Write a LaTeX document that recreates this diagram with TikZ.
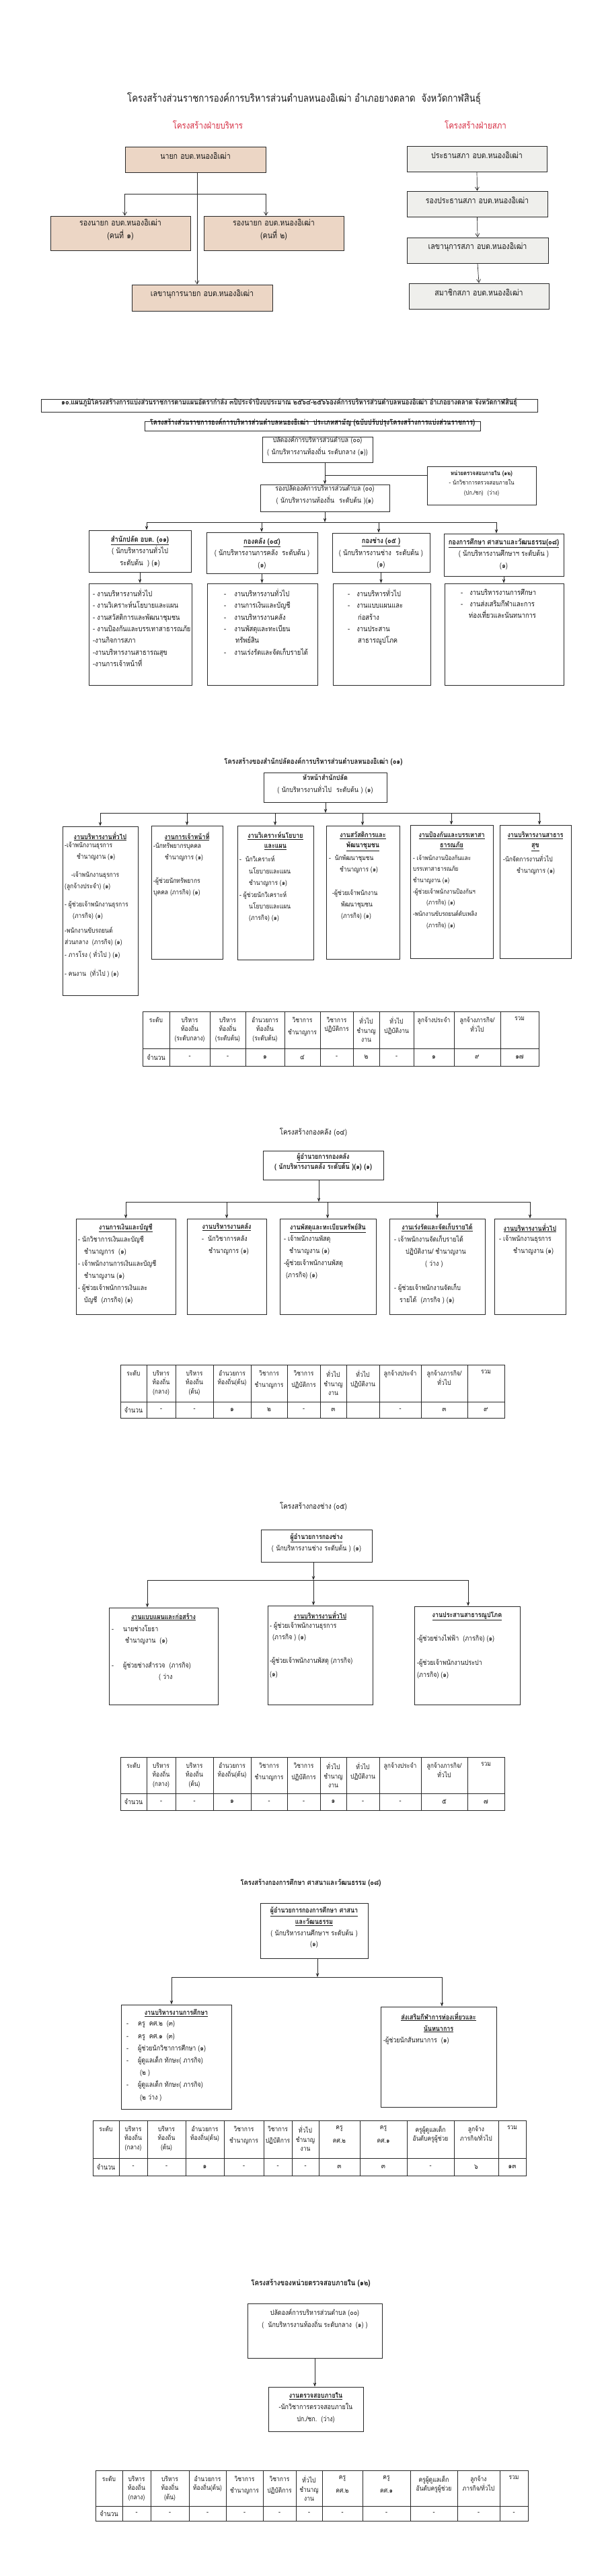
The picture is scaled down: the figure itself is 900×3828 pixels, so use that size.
\documentclass[tikz,border=0pt]{standalone}
\usepackage{fontspec}
\setmainfont{Loma}[Script=Thai,FakeStretch=0.85]
\usetikzlibrary{arrows.meta,fit}
\definecolor{lc}{RGB}{40,40,40}
\definecolor{txc}{RGB}{25,25,25}
\definecolor{tanc}{RGB}{236,214,197}
\definecolor{gryc}{RGB}{239,239,236}
\definecolor{redt}{RGB}{214,44,66}
\newcommand\fz[2]{\fontsize{#1pt}{#2pt}\selectfont}
\newcommand\ulb[1]{\underline{\textbf{#1}}}
\newcommand\hsp[1]{\hspace*{#1pt}}
\newcommand\tbcell[8]{%
  \draw[ln] (#2,#4) rectangle (#3,#5);
  \draw[ln] (#2,#5) rectangle (#3,#6);
  \node[th] (#1h) at ({(#2+#3)/2},#4+8) {#7};
  \node[tv] (#1v) at ({(#2+#3)/2},{(#5+#6)/2}) {#8};}
\begin{document}
\begin{tikzpicture}[x=1pt,y=-1pt,
  bx/.style={draw=lc,line width=0.9pt,inner sep=0pt},
  ln/.style={draw=lc,line width=0.7pt},
  arr/.style={draw=lc,line width=0.7pt,-{Stealth[length=6pt,width=4.5pt]}},
  arrv/.style={draw=lc,line width=0.7pt,-{Straight Barb[length=5pt,width=6pt]}},
  tc/.style={inner sep=0pt,align=center,text=txc,anchor=north},
  tl/.style={inner sep=0pt,align=left,text=txc,anchor=north west},
  th/.style={inner sep=0pt,align=center,text=txc,anchor=north,font=\fz{10}{13.5}},
  tv/.style={inner sep=0pt,text=txc,font=\fz{10.5}{13}},
  bt/.style={text=txc,font=\fz{12.5}{19},align=center}]
\fill[white] (0,0) rectangle (900,3828);
\useasboundingbox (0,0) rectangle (900,3828);

% ---------------- Section 1 ----------------
\node[text=txc,font=\fz{15.5}{18}] (ttl) at (452,147) {โครงสร้างส่วนราชการองค์การบริหารส่วนตำบลหนองอิเฒ่า อำเภอยางตลาด\ \ จังหวัดกาฬสินธุ์};
\node[text=redt,font=\fz{13.5}{16}] (hex) at (309,185) {โครงสร้างฝ่ายบริหาร};
\node[text=redt,font=\fz{13.5}{16}] (hco) at (707,185) {โครงสร้างฝ่ายสภา};
\node[bx,fill=tanc,fit={(186,218) (395,256)},bt] (nayok) {นายก อบต.หนองอิเฒ่า};
\node[bx,fill=tanc,fit={(75,321) (283,372)},bt] (rn1) {รองนายก อบต.หนองอิเฒ่า\\(คนที่ ๑)};
\node[bx,fill=tanc,fit={(303,321) (511,372)},bt] (rn2) {รองนายก อบต.หนองอิเฒ่า\\(คนที่ ๒)};
\node[bx,fill=tanc,fit={(196,423) (405,462)},bt] (lek) {เลขานุการนายก อบต.หนองอิเฒ่า};
\coordinate (hb1) at (293,288);
\draw[arrv] (nayok.south -| hb1) -- (lek.north -| hb1);
\draw[ln] (nayok.south west |- hb1) -- (nayok.south east |- hb1);
\draw[arrv] (nayok.south west |- hb1) -- (nayok.south west |- rn1.north);
\draw[arrv] (nayok.south east |- hb1) -- (nayok.south east |- rn2.north);
\node[bx,fill=gryc,fit={(605,217) (813,255)},bt] (pr) {ประธานสภา อบต.หนองอิเฒ่า};
\node[bx,fill=gryc,fit={(605,284) (814,322)},bt] (rpr) {รองประธานสภา อบต.หนองอิเฒ่า};
\node[bx,fill=gryc,fit={(605,353) (815,391)},bt] (lks) {เลขานุการสภา อบต.หนองอิเฒ่า};
\node[bx,fill=gryc,fit={(608,421) (816,459)},bt] (smc) {สมาชิกสภา อบต.หนองอิเฒ่า};
\draw[arrv] (pr.south) -- (rpr.north);
\draw[arrv] (rpr.south) -- (lks.north);
\draw[arrv] (lks.south) -- (smc.north);

% ---------------- Section 2 ----------------
\node[bx,fit={(61,593) (799,612)},text=txc,font=\fz{11}{13}\bfseries] (hd1) {๑๐.แผนภูมิโครงสร้างการแบ่งส่วนราชการตามแผนอัตรากำลัง ๓ปีประจำปีงบประมาณ ๒๕๖๔-๒๕๖๖องค์การบริหารส่วนตำบลหนองอิเฒ่า อำเภอยางตลาด จังหวัดกาฬสินธุ์};
\node[bx,fit={(215,626) (714,640)},text=txc,font=\fz{11}{13}\bfseries] (hd2) {โครงสร้างส่วนราชการองค์การบริหารส่วนตำบลหนองอิเฒ่า\ \ ประเภทสามัญ (ฉบับปรับปรุงโครงสร้างการแบ่งส่วนราชการ)};
\node[bx,fit={(390,649) (554,687)},align=center,text=txc,font=\fz{10.5}{18}] (pld) {ปลัดองค์การบริหารส่วนตำบล (๐๐)\\(\ นักบริหารงานท้องถิ่น ระดับกลาง (๑))};
\node[bx,fit={(387,720) (579,760)},align=center,text=txc,font=\fz{10.5}{18}] (rpld) {รองปลัดองค์การบริหารส่วนตำบล (๐๐)\\(\ นักบริหารงานท้องถิ่น\ \ ระดับต้น )(๑)};
\node[bx,fit={(635,693) (797,750)},align=center,text=txc,font=\fz{9}{14.5}] (aud) {\textbf{หน่วยตรวจสอบภายใน (๑๒)}\\- นักวิชาการตรวจสอบภายใน\\(ปก./ชก)\ \ (ว่าง)};
\draw[arr] (rpld.north |- pld.south) -- (rpld.north);
\coordinate (ja) at (483,706);
\draw[ln] (ja) -- (ja -| aud.west);
\coordinate (hb2) at (483,776);
\draw[arr] (rpld.south) -- (hb2);
\coordinate (q1) at (218,776);
\coordinate (q2) at (389,776);
\coordinate (q3) at (563,776);
\coordinate (q4) at (738,776);
\draw[ln] (q1) -- (q4);
\node[bx,fit={(132,788) (284,850)}] (d1) {};
\node[bx,fit={(307,791) (472,852)}] (d2) {};
\node[bx,fit={(494,792) (639,850)}] (d3) {};
\node[bx,fit={(660,793) (838,856)}] (d4) {};
\draw[arr] (q1) -- (q1 |- d1.north);
\draw[arr] (q2) -- (q2 |- d2.north);
\draw[arr] (q3) -- (q3 |- d3.north);
\draw[arr] (q4) -- (q4 |- d4.north);
\node[tc,font=\fz{11}{17.5}] (d1t) at (208,796) {\ulb{สำนักปลัด อบต. (๐๑)}\\( นักบริหารงานทั่วไป\\ระดับต้น\ \ ) (๑)};
\node[tc,font=\fz{11}{17.5}] (d2t) at (389.5,799) {\ulb{กองคลัง (๐๔)}\\( นักบริหารงานการคลัง\ \ ระดับต้น )\\(๑)};
\node[tc,font=\fz{11}{17.5}] (d3t) at (566.5,799) {\ulb{กองช่าง (๐๕ )}\\( นักบริหารงานช่าง\ \ ระดับต้น )\\(๑)};
\node[tc,font=\fz{11}{17.5}] (d4t) at (749,800) {\ulb{กองการศึกษา ศาสนาและวัฒนธรรม(๐๘)}\\( นักบริหารงานศึกษาฯ ระดับต้น )\\(๑)};
\node[bx,fit={(132,867) (285,1018)}] (t1) {};
\node[bx,fit={(308,867) (472,1018)}] (t2) {};
\node[bx,fit={(495,867) (640,1018)}] (t3) {};
\node[bx,fit={(661,867) (838,1018)}] (t4) {};
\draw[arr] (d1.south) -- (d1.south |- t1.north);
\draw[arr] (d2.south) -- (d2.south |- t2.north);
\draw[arr] (d3.south) -- (d3.south |- t3.north);
\draw[arr] (d4.south) -- (d4.south |- t4.north);
\node[tl,font=\fz{11}{17.3}] (t1t) at (138,875) {- งานบริหารงานทั่วไป\\- งานวิเคราะห์นโยบายและแผน\\- งานสวัสดิการและพัฒนาชุมชน\\- งานป้องกันและบรรเทาสาธารณภัย\\-งานกิจการสภา\\-งานบริหารงานสาธารณสุข\\-งานการเจ้าหน้าที่};
\node[tl,font=\fz{11}{17.3}] (t2t) at (333,875) {-\hsp{12}งานบริหารงานทั่วไป\\-\hsp{12}งานการเงินและบัญชี\\-\hsp{12}งานบริหารงานคลัง\\-\hsp{12}งานพัสดุและทะเบียน\\\hsp{17}ทรัพย์สิน\\-\hsp{12}งานเร่งรัดและจัดเก็บรายได้};
\node[tl,font=\fz{11}{17.3}] (t3t) at (517,875) {-\hsp{10}งานบริหารทั่วไป\\-\hsp{10}งานแบบแผนและ\\\hsp{15}ก่อสร้าง\\-\hsp{10}งานประสาน\\\hsp{15}สาธารณูปโภค};
\node[tl,font=\fz{11}{17.3}] (t4t) at (685,875) {-\hsp{10}งานบริหารงานการศึกษา\\-\hsp{10}งานส่งเสริมกีฬาและการ\\\hsp{12}ท่องเที่ยวและนันทนาการ};

% ---------------- Section 3 ----------------
\node[text=txc,font=\fz{11}{13}\bfseries] (st3) at (466,1132) {โครงสร้างของสำนักปลัดองค์การบริหารส่วนตำบลหนองอิเฒ่า (๐๑)};
\node[bx,fit={(392,1148) (575,1192)},align=center,text=txc,font=\fz{10.5}{18}] (hsp) {\textbf{หัวหน้าสำนักปลัด}\\( นักบริหารงานทั่วไป\ \ ระดับต้น ) (๑)};
\coordinate (hb3) at (484,1208);
\draw[arr] (hb3 |- hsp.south) -- (hb3);
\coordinate (r1) at (149,1208);
\coordinate (r2) at (278,1208);
\coordinate (r3) at (409,1208);
\coordinate (r4) at (539,1208);
\coordinate (r5) at (671,1208);
\coordinate (r6) at (802,1208);
\draw[ln] (r1) -- (r6);
\node[bx,fit={(93,1228) (205,1479)}] (s1) {};
\node[bx,fit={(225,1227) (331,1425)}] (s2) {};
\node[bx,fit={(353,1227) (466,1426)}] (s3) {};
\node[bx,fit={(485,1227) (594,1425)}] (s4) {};
\node[bx,fit={(610,1226) (733,1424)}] (s5) {};
\node[bx,fit={(743,1226) (849,1424)}] (s6) {};
\draw[arr] (r1) -- (r1 |- s1.north);
\draw[arr] (r2) -- (r2 |- s2.north);
\draw[arr] (r3) -- (r3 |- s3.north);
\draw[arr] (r4) -- (r4 |- s4.north);
\draw[arr] (r5) -- (r5 |- s5.north);
\draw[arr] (r6) -- (r6 |- s6.north);
\node[tc,font=\fz{10.5}{15}] (s1h) at (149,1236) {\ulb{งานบริหารงานทั่วไป}};
\node[tl,font=\fz{10}{16.5}] (s1t) at (96,1251) {-เจ้าพนักงานธุรการ\\\hsp{18}ชำนาญงาน (๑)\\[11pt]\hsp{10}-เจ้าพนักงานธุรการ\\(ลูกจ้างประจำ) (๑)\\[11pt]- ผู้ช่วยเจ้าพนักงานธุรการ\\\hsp{12}(ภารกิจ) (๑)\\[6pt]-พนักงานขับรถยนต์\\ส่วนกลาง\ \ (ภารกิจ) (๑)\\[3pt]- ภารโรง ( ทั่วไป ) (๑)\\[11pt]- คนงาน\ \ (ทั่วไป ) (๑)};
\node[tc,font=\fz{10.5}{15}] (s2h) at (278,1236) {\ulb{งานการเจ้าหน้าที่}};
\node[tl,font=\fz{10}{17.5}] (s2t) at (228,1252) {-นักทรัพยากรบุคคล\\\hsp{17}ชำนาญการ (๑)\\[17pt]-ผู้ช่วยนักทรัพยากร\\บุคคล (ภารกิจ) (๑)};
\node[tc,font=\fz{10.5}{15}] (s3h) at (409.5,1236) {\ulb{งานวิเคราะห์นโยบาย}\\\ulb{และแผน}};
\node[tl,font=\fz{10}{17.4}] (s3t) at (356,1272) {-\ \ นักวิเคราะห์\\\hsp{14}นโยบายและแผน\\\hsp{14}ชำนาญการ (๑)\\- ผู้ช่วยนักวิเคราะห์\\\hsp{14}นโยบายและแผน\\\hsp{14}(ภารกิจ) (๑)};
\node[tc,font=\fz{10.5}{15}] (s4h) at (539.5,1236) {\ulb{งานสวัสดิการและ}\\\ulb{พัฒนาชุมชน}};
\node[tl,font=\fz{10}{17.4}] (s4t) at (489,1270) {-\ \ นักพัฒนาชุมชน\\\hsp{16}ชำนาญการ (๑)\\[17pt]\hsp{5}-ผู้ช่วยเจ้าพนักงาน\\\hsp{18}พัฒนาชุมชน\\\hsp{18}(ภารกิจ) (๑)};
\node[tc,font=\fz{10.5}{15}] (s5h) at (671.5,1236) {\ulb{งานป้องกันและบรรเทาสา}\\\ulb{ธารณภัย}};
\node[tl,font=\fz{9.5}{16.7}] (s5t) at (614,1270) {- เจ้าพนักงานป้องกันและ\\บรรเทาสาธารณภัย\\ชำนาญงาน (๑)\\-ผู้ช่วยเจ้าพนักงานป้องกันฯ\\\hsp{20}(ภารกิจ) (๑)\\-พนักงานขับรถยนต์ดับเพลิง\\\hsp{20}(ภารกิจ) (๑)};
\node[tc,font=\fz{10.5}{15}] (s6h) at (796,1236) {\ulb{งานบริหารงานสาธาร}\\\ulb{สุข}};
\node[tl,font=\fz{10}{17.4}] (s6t) at (748,1270) {-นักจัดการงานทั่วไป\\\hsp{20}ชำนาญการ (๑)};
\tbcell{A1}{212}{252}{1503}{1558}{1584}{ระดับ}{จำนวน}
\tbcell{A2}{252}{312}{1503}{1558}{1584}{บริหาร\\ท้องถิ่น\\(ระดับกลาง)}{-}
\tbcell{A3}{312}{365}{1503}{1558}{1584}{บริหาร\\ท้องถิ่น\\(ระดับต้น)}{-}
\tbcell{A4}{365}{423}{1503}{1558}{1584}{อำนวยการ\\ท้องถิ่น\\(ระดับต้น)}{๑}
\tbcell{A5}{423}{476}{1503}{1558}{1584}{วิชาการ\\[5pt]ชำนาญการ}{๔}
\tbcell{A6}{476}{525}{1503}{1558}{1584}{วิชาการ\\ปฏิบัติการ}{-}
\tbcell{A7}{525}{564}{1503}{1558}{1584}{ทั่วไป\\ชำนาญ\\งาน}{๒}
\tbcell{A8}{564}{615}{1503}{1558}{1584}{ทั่วไป\\ปฏิบัติงาน}{-}
\tbcell{A9}{615}{675}{1503}{1558}{1584}{ลูกจ้างประจำ}{๑}
\tbcell{A10}{675}{744}{1503}{1558}{1584}{ลูกจ้างภารกิจ/\\ทั่วไป}{๙}
\tbcell{A11}{744}{801}{1503}{1558}{1584}{รวม}{๑๗}

% ---------------- Section 4 ----------------
\node[text=txc,font=\fz{11.5}{13}] (st4) at (466,1683) {โครงสร้างกองคลัง (๐๔)};
\node[bx,fit={(391,1710) (570,1753)},align=center,text=txc,font=\fz{10.5}{15}\bfseries] (hf) {\underline{ผู้อำนวยการกองคลัง}\\( นักบริหารงานคลัง ระดับต้น )(๑) (๑)};
\coordinate (hb4) at (474,1786);
\draw[arr] (hb4 |- hf.south) -- (hb4);
\coordinate (f01) at (187,1786);
\coordinate (f02) at (337,1786);
\coordinate (f03) at (487,1786);
\coordinate (f04) at (650,1786);
\coordinate (f05) at (788,1786);
\draw[ln] (f01) -- (f05);
\node[bx,fit={(113,1811) (261,1953)}] (f1) {};
\node[bx,fit={(278,1811) (396,1953)}] (f2) {};
\node[bx,fit={(416,1811) (559,1953)}] (f3) {};
\node[bx,fit={(579,1811) (721,1953)}] (f4) {};
\node[bx,fit={(735,1811) (841,1953)}] (f5) {};
\draw[arr] (f01) -- (f01 |- f1.north);
\draw[arr] (f02) -- (f02 |- f2.north);
\draw[arr] (f03) -- (f03 |- f3.north);
\draw[arr] (f04) -- (f04 |- f4.north);
\draw[arr] (f05) -- (f05 |- f5.north);
\node[tc,font=\fz{10.5}{15}] (f1h) at (187,1818) {\ulb{งานการเงินและบัญชี}};
\node[tl,font=\fz{10.5}{18}] (f1t) at (116,1836) {- นักวิชาการเงินและบัญชี\\\hsp{9}ชำนาญการ\ \ (๑)\\- เจ้าพนักงานการเงินและบัญชี\\\hsp{9}ชำนาญงาน (๑)\\- ผู้ช่วยเจ้าพนักการเงินและ\\\hsp{9}บัญชี\ \ (ภารกิจ) (๑)};
\node[tc,font=\fz{10.5}{15}] (f2h) at (337,1818) {\ulb{งานบริหารงานคลัง}};
\node[tl,font=\fz{10.5}{18}] (f2t) at (300,1836) {-\ \ นักวิชาการคลัง\\\hsp{10}ชำนาญการ (๑)};
\node[tc,font=\fz{10.5}{15}] (f3h) at (487.5,1818) {\ulb{งานพัสดุและทะเบียนทรัพย์สิน}};
\node[tl,font=\fz{10.5}{18}] (f3t) at (422,1836) {- เจ้าพนักงานพัสดุ\\\hsp{8}ชำนาญงาน (๑)\\-ผู้ช่วยเจ้าพนักงานพัสดุ\\\hsp{3}(ภารกิจ) (๑)};
\node[tc,font=\fz{10.5}{15}] (f4h) at (650,1818) {\ulb{งานเร่งรัดและจัดเก็บรายได้}};
\node[tl,font=\fz{10.5}{18}] (f4t) at (586,1836) {- เจ้าพนักงานจัดเก็บรายได้\\\hsp{17}ปฏิบัติงาน/ ชำนาญงาน\\\hsp{46}( ว่าง )\\[18pt]- ผู้ช่วยเจ้าพนักงานจัดเก็บ\\\hsp{8}รายได้\ \ (ภารกิจ ) (๑)};
\node[tc,font=\fz{10.5}{15}] (f5h) at (788,1818) {\ulb{งานบริหารงานทั่วไป}};
\node[tl,font=\fz{10.5}{18}] (f5t) at (742,1836) {- เจ้าพนักงานธุรการ\\\hsp{21}ชำนาญงาน (๑)};
\tbcell{B1}{179}{218}{2028}{2083}{2107}{ระดับ}{จำนวน}
\tbcell{B2}{218}{261}{2028}{2083}{2107}{บริหาร\\ท้องถิ่น\\(กลาง)}{-}
\tbcell{B3}{261}{317}{2028}{2083}{2107}{บริหาร\\ท้องถิ่น\\(ต้น)}{-}
\tbcell{B4}{317}{373}{2028}{2083}{2107}{อำนวยการ\\ท้องถิ่น(ต้น)}{๑}
\tbcell{B5}{373}{427}{2028}{2083}{2107}{วิชาการ\\[4pt]ชำนาญการ}{๒}
\tbcell{B6}{427}{476}{2028}{2083}{2107}{วิชาการ\\[4pt]ปฏิบัติการ}{-}
\tbcell{B7}{476}{515}{2028}{2083}{2107}{ทั่วไป\\ชำนาญ\\งาน}{๓}
\tbcell{B8}{515}{564}{2028}{2083}{2107}{ทั่วไป\\ปฏิบัติงาน}{}
\tbcell{B9}{564}{626}{2028}{2083}{2107}{ลูกจ้างประจำ}{-}
\tbcell{B10}{626}{695}{2028}{2083}{2107}{ลูกจ้างภารกิจ/\\ทั่วไป}{๓}
\tbcell{B11}{695}{750}{2028}{2083}{2107}{รวม}{๙}

% ---------------- Section 5 ----------------
\node[text=txc,font=\fz{11.5}{13}] (st5) at (466,2239) {โครงสร้างกองช่าง (๐๕)};
\node[bx,fit={(388,2273) (553,2321)},align=center,text=txc,font=\fz{10.5}{17}] (he) {\ulb{ผู้อำนวยการกองช่าง}\\( นักบริหารงานช่าง ระดับต้น ) (๑)};
\coordinate (u2) at (466,2348);
\coordinate (u1) at (219,2348);
\coordinate (u3) at (696,2348);
\draw[arr] (u2 |- he.south) -- (u2);
\draw[ln] (u1) -- (u3);
\node[bx,fit={(162,2389) (324,2533)}] (e1) {};
\node[bx,fit={(398,2386) (554,2533)}] (e2) {};
\node[bx,fit={(616,2387) (773,2533)}] (e3) {};
\draw[arr] (u1) -- (u1 |- e1.north);
\draw[arr] (u2) -- (u2 |- e2.north);
\draw[arr] (u3) -- (u3 |- e3.north);
\node[tc,font=\fz{10.5}{15}] (e1h) at (243,2397) {\ulb{งานแบบแผนและก่อสร้าง}};
\node[tl,font=\fz{10.5}{17}] (e1t) at (166,2415) {-\hsp{14}นายช่างโยธา\\\hsp{20}ชำนาญงาน\ \ (๑)\\[20pt]-\hsp{14}ผู้ช่วยช่างสำรวจ\ \ (ภารกิจ)\\\hsp{70}( ว่าง};
\node[tc,font=\fz{10.5}{15}] (e2h) at (476,2394) {\ulb{งานบริหารงานทั่วไป}};
\node[tl,font=\fz{10.5}{16.5}] (e2t) at (401,2411) {- ผู้ช่วยเจ้าพนักงานธุรการ\\\hsp{4}(ภารกิจ ) (๑)\\[19pt]-ผู้ช่วยเจ้าพนักงานพัสดุ (ภารกิจ)\\[3pt](๑)};
\node[tc,font=\fz{10.5}{15}] (e3h) at (694.5,2395) {\ulb{งานประสานสาธารณูปโภค}};
\node[tl,font=\fz{10.5}{18}] (e3t) at (620,2429) {-ผู้ช่วยช่างไฟฟ้า\ \ (ภารกิจ) (๑)\\[18pt]-ผู้ช่วยเจ้าพนักงานประปา\\(ภารกิจ) (๑)};
\tbcell{C1}{179}{218}{2611}{2665}{2690}{ระดับ}{จำนวน}
\tbcell{C2}{218}{261}{2611}{2665}{2690}{บริหาร\\ท้องถิ่น\\(กลาง)}{-}
\tbcell{C3}{261}{317}{2611}{2665}{2690}{บริหาร\\ท้องถิ่น\\(ต้น)}{-}
\tbcell{C4}{317}{373}{2611}{2665}{2690}{อำนวยการ\\ท้องถิ่น(ต้น)}{๑}
\tbcell{C5}{373}{427}{2611}{2665}{2690}{วิชาการ\\[4pt]ชำนาญการ}{-}
\tbcell{C6}{427}{476}{2611}{2665}{2690}{วิชาการ\\[4pt]ปฏิบัติการ}{-}
\tbcell{C7}{476}{515}{2611}{2665}{2690}{ทั่วไป\\ชำนาญ\\งาน}{๑}
\tbcell{C8}{515}{564}{2611}{2665}{2690}{ทั่วไป\\ปฏิบัติงาน}{-}
\tbcell{C9}{564}{626}{2611}{2665}{2690}{ลูกจ้างประจำ}{-}
\tbcell{C10}{626}{695}{2611}{2665}{2690}{ลูกจ้างภารกิจ/\\ทั่วไป}{๕}
\tbcell{C11}{695}{750}{2611}{2665}{2690}{รวม}{๗}

% ---------------- Section 6 ----------------
\node[text=txc,font=\fz{11}{13}\bfseries] (st6) at (462,2798) {โครงสร้างกองการศึกษา ศาสนาและวัฒนธรรม (๐๘)};
\node[bx,fit={(387,2828) (547,2910)},align=center,text=txc,font=\fz{10.5}{16.7}] (hed) {\ulb{ผู้อำนวยการกองการศึกษา ศาสนา}\\\ulb{และวัฒนธรรม}\\( นักบริหารงานศึกษาฯ ระดับต้น )\\(๑)};
\coordinate (v0) at (472,2938);
\coordinate (v1) at (255,2938);
\coordinate (v2) at (657,2938);
\draw[arr] (v0 |- hed.south) -- (v0);
\draw[ln] (v1) -- (v2);
\node[bx,fit={(180,2979) (344,3134)}] (c1) {};
\node[bx,fit={(566,2982) (738,3131)}] (c2) {};
\draw[arr] (v1) -- (v1 |- c1.north);
\draw[arr] (v2) -- (v2 |- c2.north);
\node[tc,font=\fz{10.5}{15}] (c1h) at (262,2986) {\ulb{งานบริหารงานการศึกษา}};
\node[tl,font=\fz{10.5}{18.2}] (c1t) at (188,3003) {-\hsp{14}ครู\ \ คศ.๒\ \ (๓)\\-\hsp{14}ครู\ \ คศ.๑\ \ (๓)\\-\hsp{14}ผู้ช่วยนักวิชาการศึกษา (๑)\\-\hsp{14}ผู้ดูแลเด็ก ทักษะ( ภารกิจ)\\\hsp{20}(๒ )\\-\hsp{14}ผู้ดูแลเด็ก ทักษะ( ภารกิจ)\\\hsp{20}(๒ ว่าง )};
\node[tc,font=\fz{10.5}{17}] (c2h) at (652,2990) {\ulb{ส่งเสริมกีฬาการท่องเที่ยวและ}\\\ulb{นันทนาการ}};
\node[tl,font=\fz{10.5}{17}] (c2t) at (570,3026) {-ผู้ช่วยนักสันทนาการ\ \ (๑)};
\tbcell{D1}{138}{177}{3151}{3207}{3233}{ระดับ}{จำนวน}
\tbcell{D2}{177}{219}{3151}{3207}{3233}{บริหาร\\ท้องถิ่น\\(กลาง)}{-}
\tbcell{D3}{219}{276}{3151}{3207}{3233}{บริหาร\\ท้องถิ่น\\(ต้น)}{-}
\tbcell{D4}{276}{333}{3151}{3207}{3233}{อำนวยการ\\ท้องถิ่น(ต้น)}{๑}
\tbcell{D5}{333}{392}{3151}{3207}{3233}{วิชาการ\\[4pt]ชำนาญการ}{-}
\tbcell{D6}{392}{434}{3151}{3207}{3233}{วิชาการ\\[4pt]ปฏิบัติการ}{-}
\tbcell{D7}{434}{474}{3151}{3207}{3233}{ทั่วไป\\ชำนาญ\\งาน}{-}
\tbcell{D8}{474}{535}{3151}{3207}{3233}{ครู\\[6pt]คศ.๒}{๓}
\tbcell{D9}{535}{605}{3151}{3207}{3233}{ครู\\[6pt]คศ.๑}{๓}
\tbcell{D10}{605}{675}{3151}{3207}{3233}{ครูผู้ดูแลเด็ก\\อันดับครูผู้ช่วย}{-}
\tbcell{D11}{675}{741}{3151}{3207}{3233}{ลูกจ้าง\\ภารกิจ/ทั่วไป}{๖}
\tbcell{D12}{741}{782}{3151}{3207}{3233}{รวม}{๑๓}

% ---------------- Section 7 ----------------
\node[text=txc,font=\fz{11.5}{13}\bfseries] (st7) at (462,3393) {โครงสร้างของหน่วยตรวจสอบภายใน (๑๒)};
\node[bx,fit={(368,3423) (568,3504)}] (a1) {};
\node[tc,font=\fz{10.5}{18}] (a1t) at (468,3431) {ปลัดองค์การบริหารส่วนตำบล (๐๐)\\(\ \ นักบริหารงานท้องถิ่น ระดับกลาง\ \ (๑) )};
\node[bx,fit={(399,3547) (540,3613)}] (a2) {};
\node[tc,font=\fz{10.5}{17.5}] (a2t) at (469.5,3555) {\ulb{งานตรวจสอบภายใน}\\-นักวิชาการตรวจสอบภายใน\\ปก./ชก.\ \ (ว่าง)};
\draw[arr] (a1.south) -- (a1.south |- a2.north);
\tbcell{E1}{142}{182}{3671}{3724}{3746}{ระดับ}{จำนวน}
\tbcell{E2}{182}{224}{3671}{3724}{3746}{บริหาร\\ท้องถิ่น\\(กลาง)}{-}
\tbcell{E3}{224}{281}{3671}{3724}{3746}{บริหาร\\ท้องถิ่น\\(ต้น)}{-}
\tbcell{E4}{281}{336}{3671}{3724}{3746}{อำนวยการ\\ท้องถิ่น(ต้น)}{-}
\tbcell{E5}{336}{391}{3671}{3724}{3746}{วิชาการ\\[4pt]ชำนาญการ}{-}
\tbcell{E6}{391}{440}{3671}{3724}{3746}{วิชาการ\\[4pt]ปฏิบัติการ}{-}
\tbcell{E7}{440}{479}{3671}{3724}{3746}{ทั่วไป\\ชำนาญ\\งาน}{-}
\tbcell{E8}{479}{539}{3671}{3724}{3746}{ครู\\[6pt]คศ.๒}{-}
\tbcell{E9}{539}{610}{3671}{3724}{3746}{ครู\\[6pt]คศ.๑}{-}
\tbcell{E10}{610}{680}{3671}{3724}{3746}{ครูผู้ดูแลเด็ก\\อันดับครูผู้ช่วย}{-}
\tbcell{E11}{680}{743}{3671}{3724}{3746}{ลูกจ้าง\\ภารกิจ/ทั่วไป}{-}
\tbcell{E12}{743}{785}{3671}{3724}{3746}{รวม}{-}
\end{tikzpicture}
\end{document}
